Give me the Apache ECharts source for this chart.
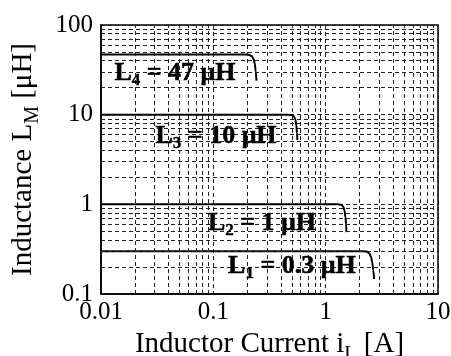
<!DOCTYPE html>
<html>
<head>
<meta charset="utf-8">
<script src="https://cdn.jsdelivr.net/npm/echarts@6/dist/echarts.min.js"></script>
<style>
html,body{margin:0;padding:0;background:#fff;}
#chart{width:451px;height:356px;}
</style>
</head>
<body>
<div id="chart"></div>
<script>
// ---- data ----
var L4 = [[0.01, 47], [0.19, 47], [0.205, 46.5], [0.219, 45], [0.228, 42], [0.234, 37], [0.238, 31], [0.242, 24]];
var L3 = [[0.01, 10], [0.46, 10], [0.495, 9.9], [0.52, 9.6], [0.537, 8.9], [0.548, 7.6], [0.555, 6.3], [0.56, 5.2]];
var L2 = [[0.01, 1], [1.28, 1], [1.37, 0.99], [1.43, 0.95], [1.47, 0.86], [1.5, 0.72], [1.52, 0.6], [1.53, 0.49]];
var L1 = [[0.01, 0.3], [2.15, 0.3], [2.32, 0.297], [2.45, 0.285], [2.53, 0.26], [2.6, 0.225], [2.65, 0.185], [2.7, 0.147]];

var curveNames = ['L1', 'L2', 'L3', 'L4'];
var curveSubs = ['1', '2', '3', '4'];
var curveValues = ['0.3', '1', '10', '47'];
var labelAnchors = [[0.50, 0.205], [0.271, 0.619], [0.1057, 5.78], [0.0456, 29.2]];

var xMinor = [0.02, 0.03, 0.04, 0.05, 0.06, 0.07, 0.08, 0.09,
              0.2, 0.3, 0.4, 0.5, 0.6, 0.7, 0.8, 0.9,
              2, 3, 4, 5, 6, 7, 8, 9];
var yMinor = [0.2, 0.3, 0.4, 0.5, 0.6, 0.7, 0.8, 0.9,
              2, 3, 4, 5, 6, 7, 8, 9,
              20, 30, 40, 50, 60, 70, 80, 90];
var xTicks = [0.01, 0.1, 1, 10];
var yTicks = [0.1, 1, 10, 100];

// ---- chart ----
var FONT = 'Liberation Serif';
var dash = [4, 3];
var chart = echarts.init(document.getElementById('chart'), null, {renderer: 'canvas'});

function fmt(v) { return String(Number(Number(v).toPrecision(3))); }

var minorLines = [];
xMinor.forEach(function (v) { minorLines.push({xAxis: v}); });
yMinor.forEach(function (v) { minorLines.push({yAxis: v}); });

var curves = [L1, L2, L3, L4];

var series = [];
series.push({
  type: 'line', data: [], silent: true, z: 1,
  markLine: {
    silent: true, symbol: ['none', 'none'], animation: false,
    label: {show: false},
    lineStyle: {color: '#222', width: 1, type: dash},
    emphasis: {disabled: true},
    data: minorLines
  }
});
curves.forEach(function (c, i) {
  series.push({
    type: 'line', name: curveNames[i], data: c,
    showSymbol: false, symbol: 'none', smooth: 0.35, smoothMonotone: 'x',
    lineStyle: {color: '#000', width: 2}, z: 3, silent: true
  });
});
series.push({
  type: 'scatter', symbolSize: 0, z: 5, silent: true,
  itemStyle: {color: '#000', opacity: 1},
  data: labelAnchors.map(function (p, i) {
    return {
      value: p,
      label: {
        show: true, position: 'inside',
        formatter: '{b|' + curveNames[i].charAt(0) + '}{s|' + curveSubs[i] + '}{b| = ' + curveValues[i] + ' μH}'
      }
    };
  }),
  label: {
    color: '#000', opacity: 1,
    rich: {
      b: {fontFamily: FONT, fontWeight: 'bold', fontSize: 26, color: '#000', lineHeight: 32, verticalAlign: 'middle', textBorderColor: '#000', textBorderWidth: 0.5},
      s: {fontFamily: FONT, fontWeight: 'bold', fontSize: 17, color: '#000', verticalAlign: 'bottom', textBorderColor: '#000', textBorderWidth: 0.4}
    }
  }
});

var option = {
  animation: false,
  backgroundColor: '#fff',
  grid: {left: 101, right: 13, top: 25, bottom: 62, show: true, borderColor: '#000', borderWidth: 1.5, containLabel: false, outerBoundsMode: 'none'},
  xAxis: {
    type: 'log', logBase: 10, min: xTicks[0], max: xTicks[xTicks.length - 1],
    name: '{a|Inductor Current i}{s|L}{a| [A]}',
    nameLocation: 'middle', nameGap: 27,
    nameTextStyle: {
      rich: {
        a: {fontFamily: FONT, fontSize: 29, color: '#000', lineHeight: 40, verticalAlign: 'middle'},
        s: {fontFamily: FONT, fontSize: 20, color: '#000', verticalAlign: 'bottom'}
      }
    },
    axisLine: {show: true, lineStyle: {color: '#000', width: 1.5}},
    axisTick: {show: false},
    axisLabel: {fontFamily: FONT, fontSize: 25, color: '#000', margin: 6, formatter: fmt},
    splitLine: {show: true, lineStyle: {color: '#222', width: 1, type: dash}},
    minorTick: {show: false}, minorSplitLine: {show: false}
  },
  yAxis: {
    type: 'log', logBase: 10, min: yTicks[0], max: yTicks[yTicks.length - 1],
    name: '{a|Inductance L}{s|M}{a| [μH]}',
    nameLocation: 'middle', nameGap: 58, nameRotate: 90,
    nameTextStyle: {
      rich: {
        a: {fontFamily: FONT, fontSize: 29, color: '#000', lineHeight: 40, verticalAlign: 'middle'},
        s: {fontFamily: FONT, fontSize: 20, color: '#000', verticalAlign: 'bottom'}
      }
    },
    axisLine: {show: true, lineStyle: {color: '#000', width: 1.5}},
    axisTick: {show: false},
    axisLabel: {fontFamily: FONT, fontSize: 25, color: '#000', margin: 8, formatter: fmt},
    splitLine: {show: true, lineStyle: {color: '#222', width: 1, type: dash}},
    minorTick: {show: false}, minorSplitLine: {show: false}
  },
  series: series
};
chart.setOption(option);
</script>
</body>
</html>
